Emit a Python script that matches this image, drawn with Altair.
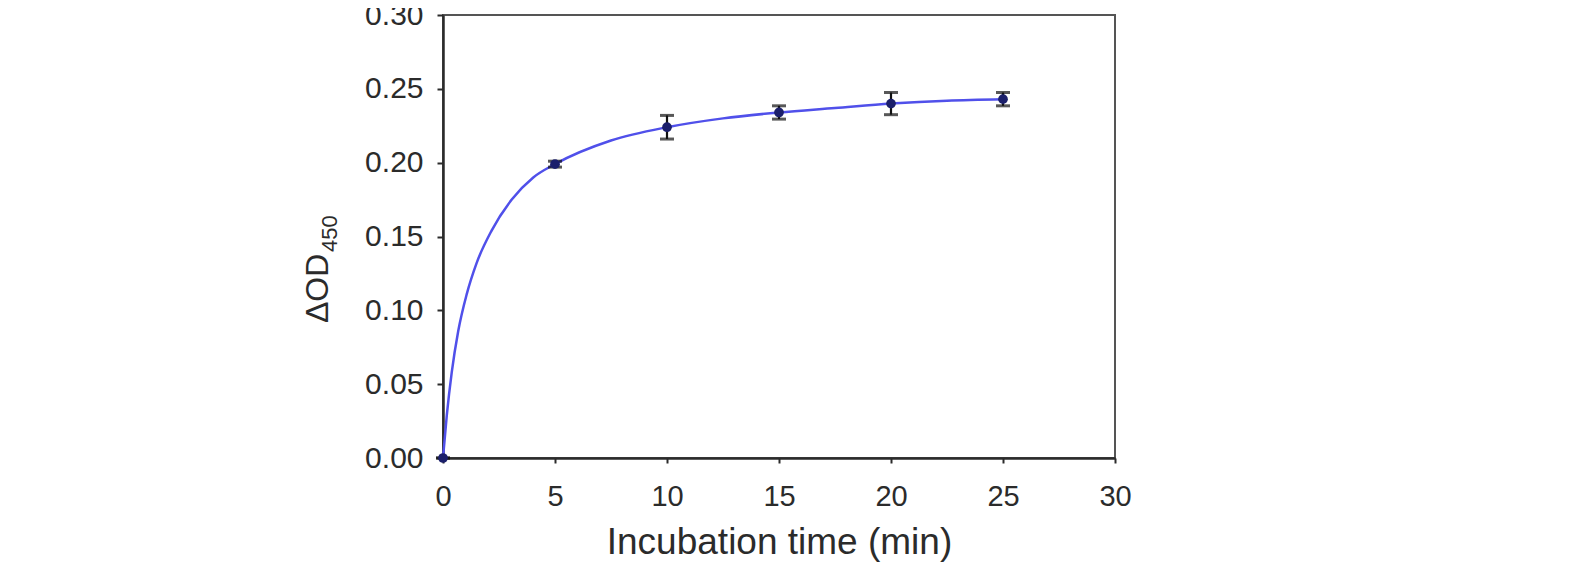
import altair as alt
import pandas as pd

# measured points (mean, error)
times = [0, 5, 10, 15, 20, 25]
means = [0.0, 0.199, 0.224, 0.234, 0.240, 0.243]
errs = [0.0, 0.002, 0.008, 0.0045, 0.0075, 0.0045]

# fitted curve
curve_x = [0, 0.17, 0.39, 0.68, 1.06, 1.5, 2.17, 3.07, 4.03, 5, 7.5, 10, 12.5, 15, 17.5, 20, 22.5, 25]
curve_y = [0, 0.029, 0.058, 0.086, 0.111, 0.132, 0.154, 0.175, 0.190, 0.199, 0.215, 0.224, 0.230, 0.234, 0.237, 0.240, 0.242, 0.243]

x_ticks = [0, 5, 10, 15, 20, 25, 30]
y_ticks = [0.0, 0.05, 0.10, 0.15, 0.20, 0.25, 0.30]

pts = pd.DataFrame({"t": times, "m": means, "e": errs})
pts["lo"] = pts["m"] - pts["e"]
pts["hi"] = pts["m"] + pts["e"]
crv = pd.DataFrame({"t": curve_x, "v": curve_y})

FONT = "Liberation Sans"
INK = "#2b2b2b"

xs = alt.Scale(domain=[0, 30], nice=False, zero=False)
ys = alt.Scale(domain=[0, 0.30], nice=False, zero=False)

xax = alt.Axis(values=x_ticks, format="d", title="Incubation time (min)", grid=False,
               labelFontSize=29, titleFontSize=37, labelPadding=19, titlePadding=13,
               tickSize=5, labelFlush=False)
yax = alt.Axis(values=y_ticks, format=".2f", title=None, grid=False,
               labelFontSize=30, labelPadding=14, tickSize=6, labelFlush=False)

line = alt.Chart(crv).mark_line(color="#5050ea", strokeWidth=2.5, interpolate="monotone").encode(
    x=alt.X("t:Q", scale=xs, axis=xax),
    y=alt.Y("v:Q", scale=ys, axis=yax),
)

bars = alt.Chart(pts).mark_rule(color="#111111", strokeWidth=2.2).encode(
    x=alt.X("t:Q", scale=xs), y=alt.Y("lo:Q", scale=ys), y2="hi:Q"
)
cap_lo = alt.Chart(pts).mark_tick(color="#111111", thickness=3, size=14, orient="horizontal").encode(
    x=alt.X("t:Q", scale=xs), y=alt.Y("lo:Q", scale=ys)
)
cap_hi = alt.Chart(pts).mark_tick(color="#111111", thickness=3, size=14, orient="horizontal").encode(
    x=alt.X("t:Q", scale=xs), y=alt.Y("hi:Q", scale=ys)
)
dots = alt.Chart(pts).mark_point(filled=True, shape="circle", size=95, color="#1b1f6b", opacity=1).encode(
    x=alt.X("t:Q", scale=xs), y=alt.Y("m:Q", scale=ys)
)

ytitle_main = alt.Chart(pd.DataFrame({"s": ["ΔOD"]})).mark_text(
    angle=270, align="left", baseline="alphabetic", fontSize=32, font=FONT, color=INK
).encode(x=alt.value(-115), y=alt.value(308), text="s:N")
ytitle_sub = alt.Chart(pd.DataFrame({"s": ["450"]})).mark_text(
    angle=270, align="left", baseline="alphabetic", fontSize=22, font=FONT, color=INK
).encode(x=alt.value(-106), y=alt.value(237), text="s:N")

chart = alt.layer(line, bars, cap_lo, cap_hi, dots, ytitle_main, ytitle_sub).properties(
    width=672, height=443,
    autosize=alt.AutoSizeParams(type="none"),
    padding={"left": 435, "top": 7, "right": 400, "bottom": 110},
    background="white",
).configure_view(stroke="#555555", strokeWidth=2).configure_axis(
    domainColor=INK, domainWidth=2.5, tickColor=INK, tickWidth=2,
    labelColor=INK, titleColor=INK, labelFont=FONT, titleFont=FONT,
    titleFontWeight="normal",
)

chart.save("out.html", embed_options={"renderer": "svg", "actions": False})
